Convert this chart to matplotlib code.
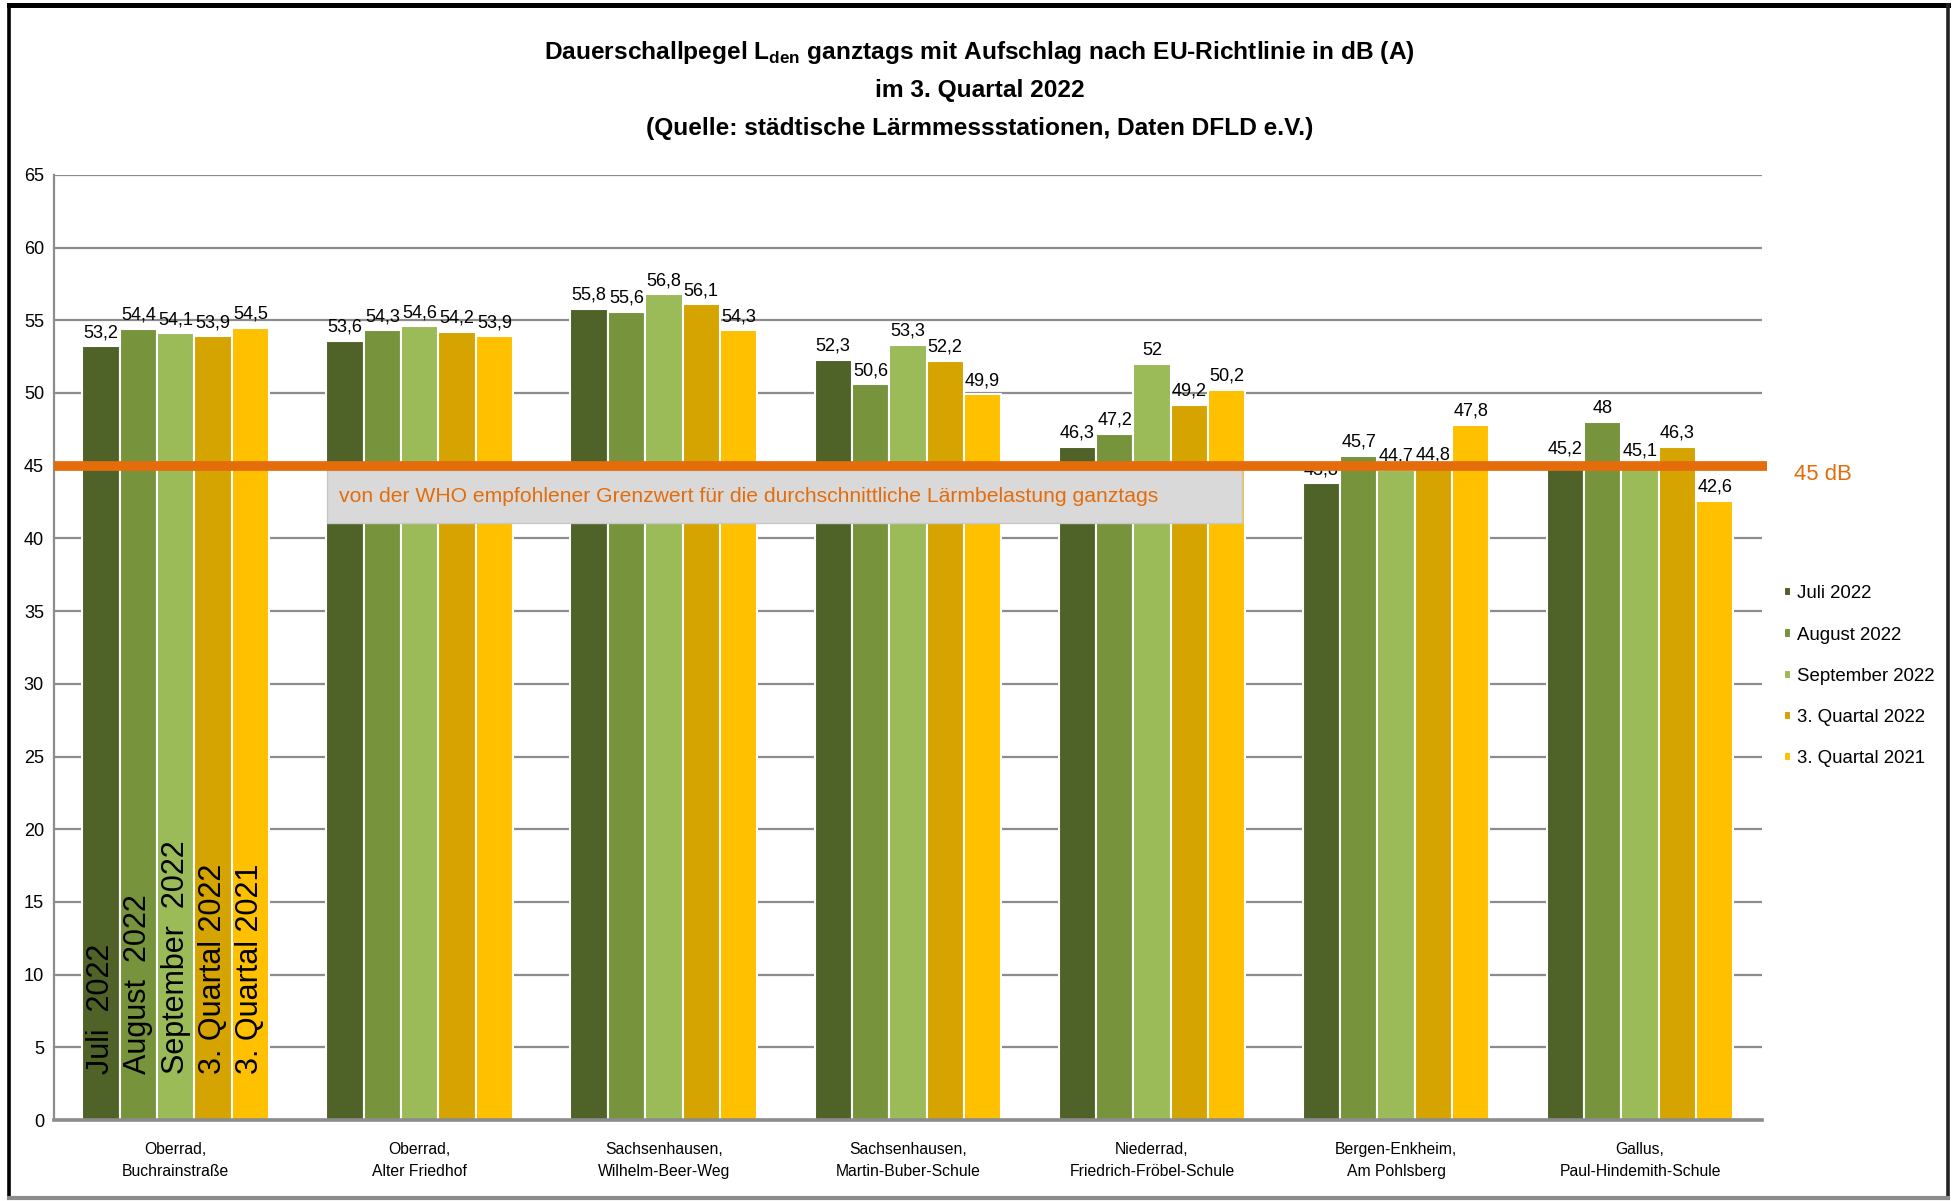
import numpy as np
import matplotlib.pyplot as plt
from matplotlib import font_manager
from matplotlib.lines import Line2D
from matplotlib.patches import Rectangle

# pick a narrow sans if the system has one
names = {f.name for f in font_manager.fontManager.ttflist}
if "Liberation Sans Narrow" in names:
    FONT = "Liberation Sans Narrow"
    k = 1.0
else:
    FONT = "Liberation Sans"
    k = 0.84
plt.rcParams["font.family"] = [FONT, "DejaVu Sans"]
plt.rcParams["mathtext.fontset"] = "custom"
plt.rcParams["mathtext.bf"] = FONT + ":bold"
plt.rcParams["mathtext.rm"] = FONT

stations = ["Oberrad,\nBuchrainstraße", "Oberrad,\nAlter Friedhof", "Sachsenhausen,\nWilhelm-Beer-Weg",
            "Sachsenhausen,\nMartin-Buber-Schule", "Niederrad,\nFriedrich-Fröbel-Schule",
            "Bergen-Enkheim,\nAm Pohlsberg", "Gallus,\nPaul-Hindemith-Schule"]
series = ["Juli 2022", "August 2022", "September 2022", "3. Quartal 2022", "3. Quartal 2021"]
bar_text = ["Juli  2022", "August  2022", "September  2022", "3. Quartal 2022", "3. Quartal 2021"]
colors = ["#4F6228", "#77933C", "#9BBB59", "#D6A400", "#FFC000"]

juli = [53.2, 53.6, 55.8, 52.3, 46.3, 43.8, 45.2]
august = [54.4, 54.3, 55.6, 50.6, 47.2, 45.7, 48.0]
september = [54.1, 54.6, 56.8, 53.3, 52.0, 44.7, 45.1]
q3_2022 = [53.9, 54.2, 56.1, 52.2, 49.2, 44.8, 46.3]
q3_2021 = [54.5, 53.9, 54.3, 49.9, 50.2, 47.8, 42.6]
values = [juli, august, september, q3_2022, q3_2021]

who_limit = 45
who_text = "von der WHO empfohlener Grenzwert für die durchschnittliche Lärmbelastung ganztags"


def fmt(v):
    s = ("%.1f" % v).replace(".", ",")
    return s[:-2] if s.endswith(",0") else s


fig = plt.figure(figsize=(19.59, 12.01), dpi=100)
ax = fig.add_axes([0.0274, 0.0674, 0.8721, 0.787])

x = np.arange(len(stations))
w = 0.153
for j, (vals, c) in enumerate(zip(values, colors)):
    pos = x + (j - 2) * w
    ax.bar(pos, vals, width=w, color=c, edgecolor="white", linewidth=1.5, zorder=2, label=series[j])
    for p, v in zip(pos, vals):
        ax.text(p, v + 0.35, fmt(v), ha="center", va="bottom", fontsize=15.5 * k, color="black", zorder=3)
    # series names written inside the first group
    ax.text(pos[0], 3.2, bar_text[j], rotation=90, ha="center", va="bottom",
            fontsize=22, family=["Liberation Sans", "DejaVu Sans"], zorder=3)

# WHO limit line and label box
ax.plot([-0.5, 6.52], [who_limit, who_limit], color="#E46C0A", lw=7, clip_on=False, zorder=5,
        solid_capstyle="butt")
ax.add_patch(Rectangle((0.62, 41.06), 4.37 - 0.62, 3.64, facecolor="#D9D9D9", edgecolor="#C8C8C8",
                       lw=1, zorder=4))
ax.text(0.668, 42.9, who_text, color="#E46C0A", fontsize=18.1 * k, va="center", ha="left", zorder=6)
fig.text(0.916, 0.6045, "45 dB", color="#E46C0A", fontsize=19 * k, va="center", ha="left")

ax.set_xlim(-0.5, 6.5)
ax.set_ylim(0, 65)
ax.set_yticks(np.arange(0, 70, 5))
ax.set_xticks(x)
ax.set_xticklabels(stations, fontsize=13.5 * k, linespacing=1.6)
ax.tick_params(axis="y", length=0, pad=7, labelsize=15.5 * k)
ax.tick_params(axis="x", length=0, pad=16)
ax.grid(axis="y", color="#8C8C8C", lw=1.6, zorder=0)
ax.set_axisbelow(True)
for s in ["top", "right"]:
    ax.spines[s].set_visible(False)
ax.spines["left"].set_color("#8C8C8C")
ax.spines["left"].set_linewidth(1.6)
ax.spines["bottom"].set_color("#8C8C8C")
ax.spines["bottom"].set_linewidth(2.6)

fig.legend(loc="center left", bbox_to_anchor=(0.9105, 0.4368), frameon=False, fontsize=16 * k,
           handlelength=0.4, handleheight=0.4, handletextpad=0.3, labelspacing=1.3, borderpad=0,
           borderaxespad=0)

# chart title
fig.text(0.5, 0.9564, r"Dauerschallpegel L$_{\mathbf{den}}$ ganztags mit Aufschlag nach EU-Richtlinie in dB (A)",
         ha="center", va="center", fontsize=21 * k, fontweight="bold")
fig.text(0.5, 0.9247, "im 3. Quartal 2022", ha="center", va="center", fontsize=21 * k, fontweight="bold")
fig.text(0.5, 0.8931, "(Quelle: städtische Lärmmessstationen, Daten DFLD e.V.)", ha="center", va="center",
         fontsize=21 * k, fontweight="bold")

# outer frame
fig.add_artist(Line2D([0.0046, 0.0046], [0.0025, 0.9958], color="black", lw=2.6))
fig.add_artist(Line2D([0.0046, 0.9944], [0.9958, 0.9958], color="black", lw=3.6))
fig.add_artist(Line2D([0.9944, 0.9944], [0.0025, 0.9958], color="#222222", lw=2.6))
fig.add_artist(Line2D([0.0046, 0.9944], [0.0025, 0.0025], color="#8C8C8C", lw=3))

fig.savefig("out.png", dpi=100)
